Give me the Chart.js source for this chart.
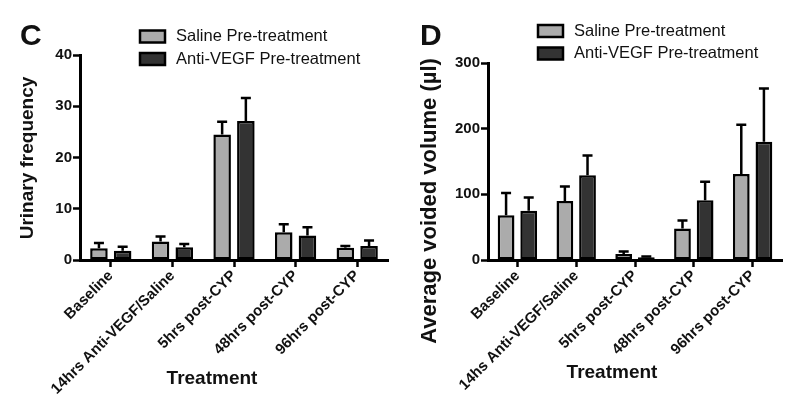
<!DOCTYPE html>
<html>
<head>
<meta charset="utf-8">
<script src="https://cdn.jsdelivr.net/npm/chart.js@4"></script>
<style>
    body { margin: 0; background: #fff; }
    .panel { position: absolute; top: 0; width: 400px; height: 415px; }
</style>
</head>
<body>
<div class="panel" style="left:0"><canvas id="chartC" width="400" height="415"></canvas></div>
<div class="panel" style="left:400px"><canvas id="chartD" width="400" height="415"></canvas></div>
<script>
// Panel C - urinary frequency
const labelsC = ['Baseline', '14hrs Anti-VEGF/Saline', '5hrs post-CYP', '48hrs post-CYP', '96hrs post-CYP'];
const salineC = [2.3, 3.6, 24.5, 5.4, 2.4];
const salineSemC = [1.0, 1.0, 2.5, 1.6, 0.35];
const antiC = [1.8, 2.5, 27.1, 4.8, 2.75];
const antiSemC = [0.8, 0.6, 4.5, 1.6, 1.05];
const ticksC = [0, 10, 20, 30, 40];

// Panel D - average voided volume
const labelsD = ['Baseline', '14hs Anti-VEGF/Saline', '5hrs post-CYP', '48hrs post-CYP', '96hrs post-CYP'];
const salineD = [68, 90, 9, 48, 131];
const salineSemD = [34, 22, 4, 12, 75];
const antiD = [75, 129, 4, 91, 180];
const antiSemD = [20, 30, 1.5, 28, 81];
const ticksD = [0, 100, 200, 300];

const seriesNames = ['Saline Pre-treatment', 'Anti-VEGF Pre-treatment'];
const FONT = "'Liberation Sans', Arial, Helvetica, sans-serif";
const SALINE = '#ababab';
const ANTI = '#333333';

// mean + SEM whiskers, upper side only
const errorBars = {
    id: 'errorBars',
    afterDatasetsDraw(chart) {
        const ctx = chart.ctx;
        const y = chart.scales.y;
        ctx.save();
        ctx.strokeStyle = '#000';
        ctx.lineWidth = 2.5;
        chart.data.datasets.forEach((ds, i) => {
            const meta = chart.getDatasetMeta(i);
            meta.data.forEach((bar, j) => {
                const top = y.getPixelForValue(ds.data[j] + ds.sem[j]);
                ctx.beginPath();
                ctx.moveTo(bar.x, bar.y);
                ctx.lineTo(bar.x, top);
                ctx.moveTo(bar.x - 5, top);
                ctx.lineTo(bar.x + 5, top);
                ctx.stroke();
            });
        });
        ctx.restore();
    }
};

// panel letter, stacked legend and axis titles
const decorations = {
    id: 'decorations',
    afterDraw(chart, args, opts) {
        const ctx = chart.ctx;
        ctx.save();
        ctx.fillStyle = '#111';
        ctx.textBaseline = 'middle';
        ctx.font = 'bold 30px ' + FONT;
        ctx.fillText(opts.letter, opts.letterX, 37);

        ctx.font = '16.5px ' + FONT;
        chart.data.datasets.forEach((ds, i) => {
            const cy = opts.legendY + i * 22.5;
            ctx.fillStyle = ds.backgroundColor;
            ctx.fillRect(opts.legendX, cy - 6, 25, 12);
            ctx.lineWidth = 2.5;
            ctx.strokeStyle = '#000';
            ctx.strokeRect(opts.legendX, cy - 6, 25, 12);
            ctx.fillStyle = '#111';
            ctx.fillText(ds.label, opts.legendX + 36, cy);
        });

        ctx.textAlign = 'center';
        ctx.font = 'bold 19px ' + FONT;
        ctx.fillText('Treatment', opts.xTitleX, opts.xTitleY);

        ctx.translate(opts.yTitleX, opts.yTitleY);
        ctx.rotate(-Math.PI / 2);
        ctx.font = 'bold ' + opts.yTitleSize + 'px ' + FONT;
        ctx.fillText(opts.yTitle, 0, 0);
        ctx.restore();
    }
};

function makeChart(id, labels, saline, salineSem, anti, antiSem, tickVals, area, deco) {
    return new Chart(document.getElementById(id), {
        type: 'bar',
        data: {
            labels: labels,
            datasets: [{
                label: seriesNames[0],
                data: saline,
                sem: salineSem,
                backgroundColor: SALINE
            }, {
                label: seriesNames[1],
                data: anti,
                sem: antiSem,
                backgroundColor: ANTI
            }]
        },
        options: {
            responsive: false,
            animation: false,
            layout: {
                padding: { left: 0, right: area.right, top: area.top, bottom: 0 }
            },
            datasets: {
                bar: {
                    borderColor: '#000',
                    borderWidth: 2.5,
                    borderSkipped: false,
                    categoryPercentage: 0.77,
                    barPercentage: 0.74
                }
            },
            scales: {
                x: {
                    afterFit: s => { s.height = 155; },
                    grid: {
                        offset: false,
                        drawOnChartArea: false,
                        tickColor: '#000',
                        tickWidth: 2.5,
                        tickLength: 7
                    },
                    border: { color: '#000', width: 3 },
                    ticks: {
                        minRotation: 45,
                        maxRotation: 45,
                        autoSkip: false,
                        padding: 0,
                        color: '#111',
                        font: { family: FONT, size: 15, weight: 'bold' }
                    }
                },
                y: {
                    min: 0,
                    max: tickVals[tickVals.length - 1],
                    afterFit: s => { s.width = area.left; },
                    afterBuildTicks: s => { s.ticks = tickVals.map(v => ({ value: v })); },
                    grid: {
                        drawOnChartArea: false,
                        tickColor: '#000',
                        tickWidth: 2.5,
                        tickLength: 7
                    },
                    border: { color: '#000', width: 3 },
                    ticks: {
                        padding: 1,
                        color: '#111',
                        font: { family: FONT, size: 15, weight: 'bold' }
                    }
                }
            },
            plugins: {
                legend: { display: false },
                tooltip: { enabled: false },
                decorations: deco
            }
        },
        plugins: [errorBars, decorations]
    });
}

makeChart('chartC', labelsC, salineC, salineSemC, antiC, antiSemC, ticksC,
    { left: 80, right: 12, top: 55 },
    {
        letter: 'C', letterX: 20, legendX: 140, legendY: 36.5,
        xTitleX: 212, xTitleY: 379,
        yTitle: 'Urinary frequency', yTitleSize: 19, yTitleX: 28, yTitleY: 158
    });

makeChart('chartD', labelsD, salineD, salineSemD, antiD, antiSemD, ticksD,
    { left: 88, right: 18, top: 63 },
    {
        letter: 'D', letterX: 20, legendX: 138, legendY: 31,
        xTitleX: 212, xTitleY: 373,
        yTitle: 'Average voided volume (\u00b5l)', yTitleSize: 22, yTitleX: 30, yTitleY: 201
    });
</script>
</body>
</html>
